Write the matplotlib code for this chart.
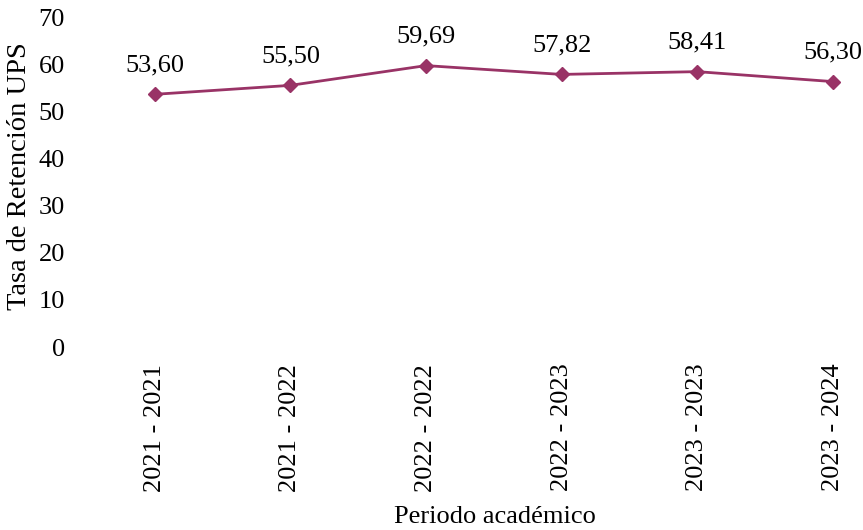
import matplotlib
matplotlib.use("Agg")
import matplotlib.pyplot as plt

periodos = ["2021 - 2021", "2021 - 2022", "2022 - 2022", "2022 - 2023", "2023 - 2023", "2023 - 2024"]
tasa = [53.60, 55.50, 59.69, 57.82, 58.41, 56.30]

plt.rcParams['font.family'] = ['Liberation Serif', 'DejaVu Serif']
color = "#993366"
fs = 19

fig = plt.figure(figsize=(8.63, 5.30), dpi=100)
ax = fig.add_axes([87/863, 1-347/530, (863-87)/863, (347-17)/530])
x = list(range(len(periodos)))
ax.plot(x, tasa, color=color, lw=2, marker="D", ms=7, markeredgecolor=color, markerfacecolor=color)
for xi, v in zip(x, tasa):
    ax.annotate(f"{v:.2f}".replace(".", ","), (xi, v), xytext=(0, 13), textcoords="offset points",
                ha="center", va="bottom", fontsize=fs)
bin_w = (833-155)/5
ax.set_xlim(-0.5, -0.5 + (863-87)/bin_w)
ax.set_ylim(0, 70)
ax.set_yticks(range(0, 71, 10))
ax.set_xticks(x)
ax.set_xticklabels(periodos, rotation=90, fontsize=fs)
ax.tick_params(axis="y", labelsize=fs, length=0, pad=16)
ax.tick_params(axis="x", length=0, pad=12)
for s in ax.spines.values():
    s.set_visible(False)
ax.set_ylabel("Tasa de Retención UPS", fontsize=20.5)
ax.yaxis.set_label_coords(-(87-20)/(863-87), (347-176)/330)
ax.yaxis.label.set_va("center")
ax.set_xlabel("Periodo académico", fontsize=fs)
ax.xaxis.set_label_coords((495-87)/(863-87), -(517-347)/330)
ax.xaxis.label.set_va("center")
fig.savefig("out.png", dpi=100)
